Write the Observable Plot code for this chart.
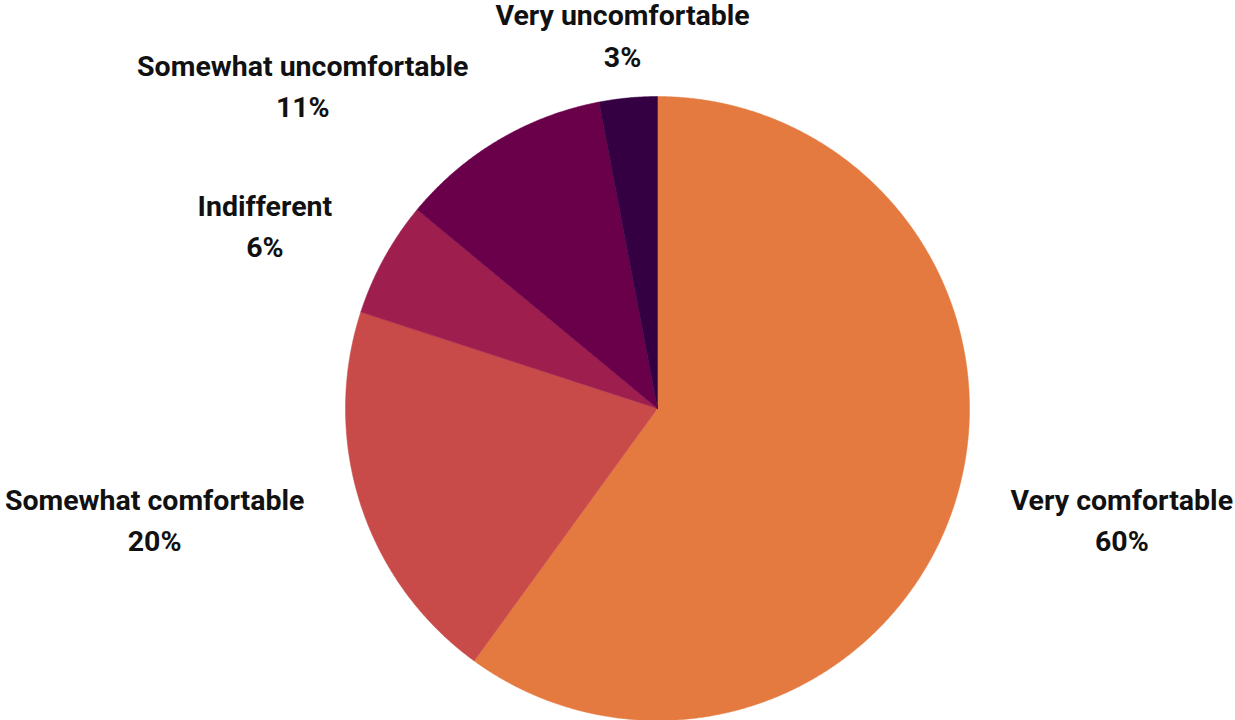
<!DOCTYPE html>
<html>
<head>
<meta charset="utf-8">
<script src="https://cdn.jsdelivr.net/npm/d3@7"></script>
<script src="https://cdn.jsdelivr.net/npm/@observablehq/plot@0.6"></script>
<style>
  html, body { margin: 0; padding: 0; background: #fff; overflow: hidden; }
</style>
</head>
<body>
<div id="chart"></div>
<script>
// Data
const categories = ["Very comfortable", "Somewhat comfortable", "Indifferent", "Somewhat uncomfortable", "Very uncomfortable"];
const values = [60, 20, 6, 11, 3];
const colors = ["#E47A40", "#C84B4A", "#9E1F4E", "#6A004A", "#350042"];

// Layout (unit circle, scaled by Plot's linear scales)
const W = 1235, H = 720;
const R = 312;          // pie radius in px
const cx = 657, cy = 408; // pie centre in px
const labelR = 1.19;    // label distance in radius units
const fontSize = 28.5;
const fontFamily = "Roboto, 'Noto Sans', sans-serif";

const total = d3.sum(values);
let acc = 0;
const slices = categories.map((name, i) => {
  const a0 = acc / total * 2 * Math.PI;
  acc += values[i];
  const a1 = acc / total * 2 * Math.PI;
  return { name, value: values[i], a0, a1, mid: (a0 + a1) / 2 };
});

// polygon points for each slice (angle clockwise from 12 o'clock)
const pts = [];
for (const s of slices) {
  pts.push({ name: s.name, x: 0, y: 0 });
  const n = Math.max(2, Math.ceil((s.a1 - s.a0) / 0.005));
  for (let k = 0; k <= n; k++) {
    const a = s.a0 + (s.a1 - s.a0) * k / n;
    pts.push({ name: s.name, x: Math.sin(a), y: Math.cos(a) });
  }
  pts.push({ name: s.name, x: 0, y: 0 });
}

// measure label block widths so each block's lines can be centred together
const ctx = document.createElement("canvas").getContext("2d");
ctx.font = `700 ${fontSize}px ${fontFamily}`;

const labels = slices.map(s => {
  const sx = Math.sin(s.mid);
  const lines = [s.name, `${s.value}%`];
  const w = d3.max(lines, l => ctx.measureText(l).width) / R;
  const anchor = sx > 0.3 ? "start" : sx < -0.3 ? "end" : "middle";
  let x = labelR * sx;
  if (anchor === "start") x += w / 2;
  if (anchor === "end") x -= w / 2;
  return { text: lines.join("\n"), x, y: labelR * Math.cos(s.mid) };
});

const chart = Plot.plot({
  width: W,
  height: H,
  margin: 0,
  style: { fontFamily, background: "#fff" },
  x: { domain: [-cx / R, (W - cx) / R], axis: null },
  y: { domain: [-(H - cy) / R, cy / R], axis: null },
  color: { domain: categories, range: colors },
  marks: [
    Plot.line(pts, { x: "x", y: "y", z: "name", fill: "name", stroke: "name", strokeWidth: 0.5, curve: "linear" }),
    Plot.text(labels, {
      x: "x", y: "y", text: "text",
      textAnchor: "middle",
      lineAnchor: "middle",
      lineHeight: 1.44,
      dy: -6,
      fontSize,
      fontWeight: 700,
      fill: "#111"
    })
  ]
});
document.getElementById("chart").appendChild(chart);
</script>
</body>
</html>
